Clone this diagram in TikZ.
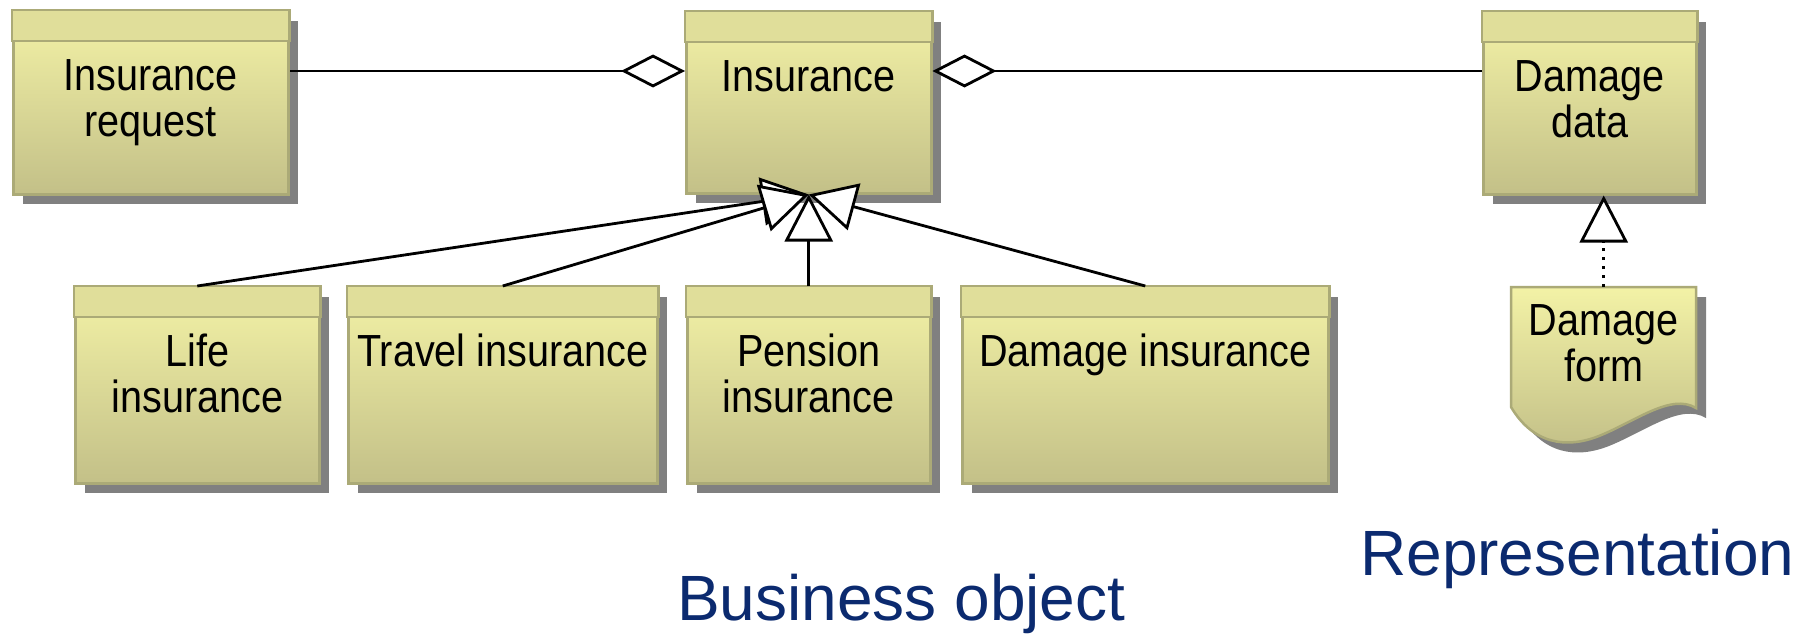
\documentclass[tikz,border=0pt]{standalone}
\usepackage{fontspec}
\setmainfont{Liberation Sans}
\newfontfamily\boxfont{Liberation Sans}[FakeStretch=0.88]
\usetikzlibrary{arrows.meta,calc,shadows}
\definecolor{hdr}{HTML}{E0DE9A}
\definecolor{bodytop}{HTML}{F3F2A6}
\definecolor{bodybot}{HTML}{C3C088}
\definecolor{bord}{HTML}{ABAA77}
\definecolor{shad}{HTML}{808080}
\definecolor{navy}{HTML}{0B2A6F}
\tikzset{
 umlbox/.style={draw=bord, line width=2.5pt, top color=bodytop, bottom color=bodybot,
   anchor=north west, inner sep=0pt,
   drop shadow={shadow xshift=10pt, shadow yshift=-10pt, fill=shad, opacity=1}},
 hdrbox/.style={fill=hdr, draw=bord, line width=2.5pt},
 boxtext/.style={font=\boxfont\fontsize{45}{46}\selectfont, align=center, inner sep=0pt, anchor=north},
 titletext/.style={font=\fontsize{64}{70}\selectfont, text=navy, inner sep=0pt, anchor=base west},
 conn/.style={line width=2.8pt, draw=black},
 gen/.style={conn, -{Triangle[fill=white, length=47pt, width=48pt]}},
 aggr/.style={conn, {Diamond[fill=white, length=64pt, width=33pt]}-},
 real/.style={conn, dash pattern=on 3pt off 6pt, -{Triangle[fill=white, length=47pt, width=48pt]}},
}
\newcommand\myclass[6]{%
 \node[umlbox, minimum width=#4pt, minimum height=#5pt] (#1) at (#2,#3) {};
 \draw[hdrbox] (#1.north west) rectangle ($(#1.north east)+(0,31)$);
 \node[boxtext] (#1-t) at ($(#1.north)+(0,46)$) {\rule{0pt}{34pt}#6};
}
\begin{document}
\begin{tikzpicture}[x=1pt,y=-1pt]
\useasboundingbox (0,0) rectangle (1811,634);
\myclass{ireq}{12}{10}{275}{183}{Insurance\\request}
\myclass{ins}{685}{11}{245}{181}{Insurance}
\myclass{ddata}{1482}{11}{213}{182}{Damage\\data}
\myclass{life}{74}{286}{244}{196}{Life\\insurance}
\myclass{travel}{347}{286}{309}{196}{Travel insurance}
\myclass{pension}{686}{286}{243}{196}{Pension\\insurance}
\myclass{dins}{961}{286}{366}{196}{Damage insurance}
% document shape
\node[inner sep=0pt, minimum width=185pt, minimum height=120pt, anchor=north west] (dform) at (1511,287) {};
\begin{scope}[shift={(dform.north west)}]
 \fill[shad, shift={(10,10)}] (0,0) -- (185,0) -- (185,121) .. controls (160,106) and (125,134) .. (88,149) .. controls (55,162) and (22,157) .. (0,120) -- cycle;
 \shadedraw[top color=bodytop, bottom color=bodybot, draw=bord, line width=2.5pt] (0,0) -- (185,0) -- (185,121) .. controls (160,106) and (125,134) .. (88,149) .. controls (55,162) and (22,157) .. (0,120) -- cycle;
\end{scope}
\node[boxtext] (dform-t) at ($(dform.north)+(0,14)$) {\rule{0pt}{34pt}Damage\\form};
% connectors
\draw[aggr] ($(ins.north west)+(0,60)$) -- ($(ireq.north east)+(0,61)$);
\draw[aggr] ($(ins.north east)+(0,60)$) -- ($(ddata.north west)+(0,60)$);
\draw[gen] (life.north) -- (ins.south);
\draw[gen] (travel.north) -- (ins.south);
\draw[gen] (dins.north) -- (ins.south);
\draw[gen] (pension.north) -- (ins.south);
\draw[real] (dform.north) -- (dform.north |- ddata.south);
% titles
\node[titletext] (bo) at (677,620) {Business object};
\node[titletext] (rep) at (1360,575) {Representation};
\end{tikzpicture}
\end{document}
